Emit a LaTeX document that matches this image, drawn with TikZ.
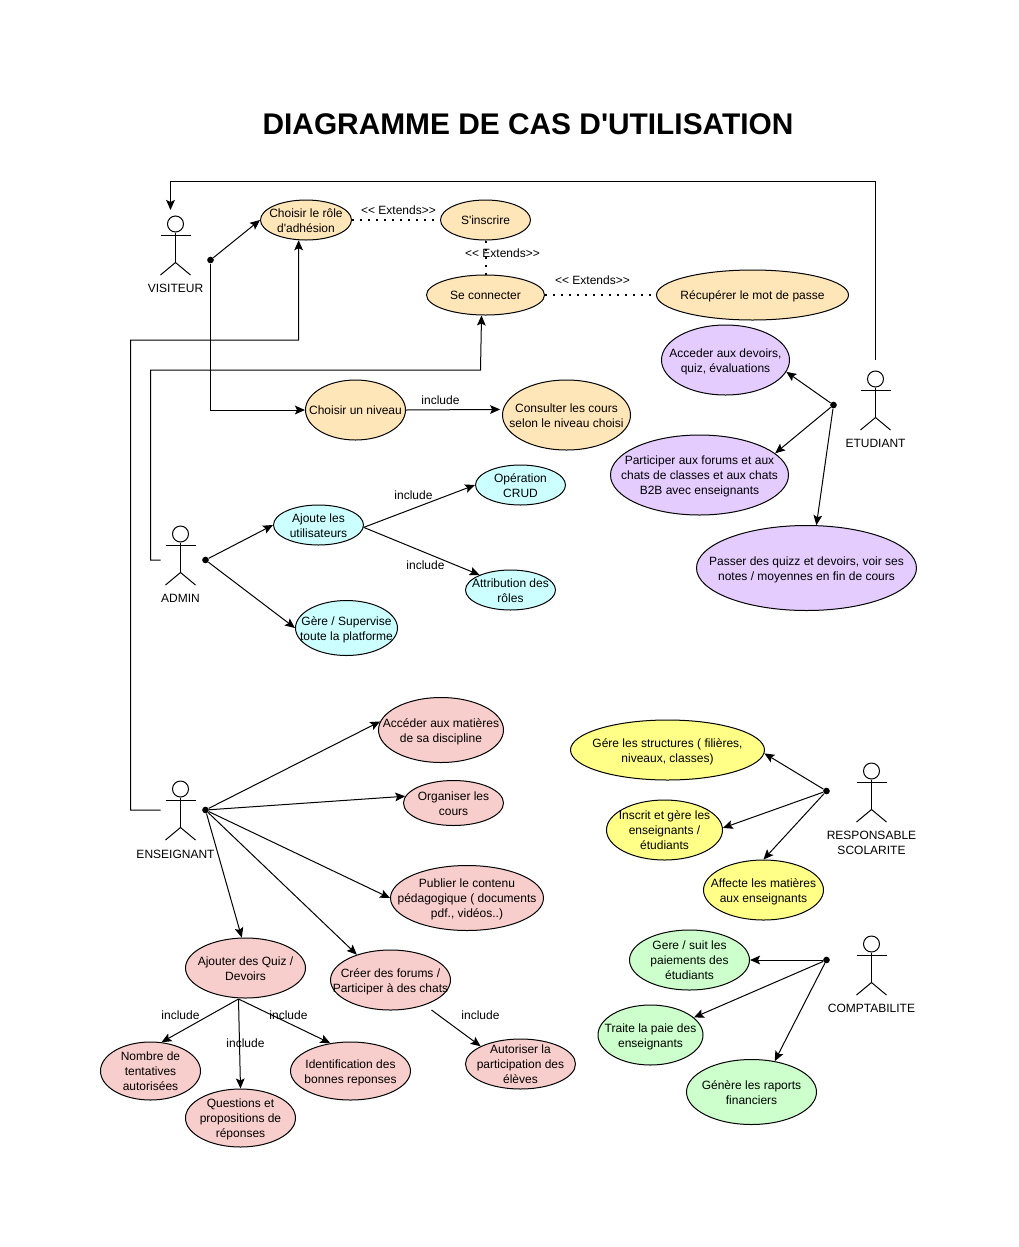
\documentclass[tikz,border=0pt]{standalone}
\usepackage{fontspec}
\setmainfont[Ligatures=TeXOff]{Liberation Sans}
\usetikzlibrary{shapes.geometric,arrows.meta,calc}
\definecolor{corange}{HTML}{FFE6B8}
\definecolor{cpurple}{HTML}{E5CCFF}
\definecolor{ccyan}{HTML}{CCFFFF}
\definecolor{cpink}{HTML}{F8CECC}
\definecolor{cyellow}{HTML}{FFFF88}
\definecolor{cgreen}{HTML}{CCFFCC}
\newcommand{\tx}[1]{\smash{\makebox[0pt]{\raisebox{-3.6pt}{\begin{tabular}[c]{@{}c@{}}#1\end{tabular}}}}}
\newcommand{\uc}[7]{\node[ucase,fill=#1,minimum width=#5*0.75pt,minimum height=#6*0.75pt] (#2) at (#3,#4) {\tx{#7}};}
\newcommand{\actorname}{}
\newcommand{\actor}[5]{%
  \node[draw,circle,inner sep=0pt,minimum size=12pt,line width=0.75pt] (#1) at (#2,#3) {};
  \draw[wire] (#1.south) -- ++(0,-30) coordinate (#1hip);
  \draw[wire] ($(#1.south)+(-15,-3)$) coordinate (#1hand) -- ++(30,0);
  \draw[wire] (#2-15,#3-51) -- (#1hip) -- (#2+15,#3-51);
  \node[lbl,align=center] (#1lab) at (#4,#3-#5) {\actorname};}
\tikzset{
  x=0.75pt,y=0.75pt,
  font=\fontsize{9}{11.25}\selectfont,
  ucase/.style={draw=black,ellipse,inner sep=0pt,line width=0.75pt},
  wire/.style={draw=black,line width=0.75pt},
  arr/.style={wire,-{Stealth[length=7.5pt,width=6.5pt,inset=1.5pt]}},
  dots/.style={draw=black,line width=1.5pt,dash pattern=on 1.5pt off 4.5pt},
  lbl/.style={inner sep=0pt,text=black},
  junction/.style={circle,fill=black,inner sep=0pt,minimum size=5pt},
}
\begin{document}
\begin{tikzpicture}
\useasboundingbox[fill=white] (-0.5,0) rectangle (1018.5,-1247);
\node[lbl,font=\bfseries\fontsize{22.4}{26}\selectfont] (title) at (527.5,-124.5) {DIAGRAMME DE CAS D'UTILISATION};

% use cases
\uc{corange}{role}{305.5}{-220}{91}{40}{Choisir le rôle\\d'adhésion}
\uc{corange}{inscrire}{485}{-220}{90}{40}{S'inscrire}
\uc{corange}{connecter}{485}{-295}{118}{40}{Se connecter}
\uc{corange}{recup}{752}{-295}{192}{50}{Récupérer le mot de passe}
\uc{corange}{niveau}{355}{-410}{100}{60}{Choisir un niveau}
\uc{corange}{consulter}{566}{-415}{128}{70}{Consulter les cours\\selon le niveau choisi}
\uc{cpurple}{acceder}{725}{-360}{128}{70}{Acceder aux devoirs,\\quiz, évaluations}
\uc{cpurple}{forums}{699}{-475}{178}{80}{Participer aux forums et aux\\chats de classes et aux chats\\B2B avec enseignants}
\uc{cpurple}{passer}{806}{-568}{220}{85}{Passer des quizz et devoirs, voir ses\\notes / moyennes en fin de cours}
\uc{ccyan}{crud}{520}{-485}{90}{40}{Opération\\CRUD}
\uc{ccyan}{ajoute}{318}{-525}{90}{40}{Ajoute les\\utilisateurs}
\uc{ccyan}{attrib}{510}{-590}{90}{40}{Attribution des\\rôles}
\uc{ccyan}{gere}{346}{-628}{102}{55}{Gère / Supervise\\toute la platforme}
\uc{cpink}{matieres}{440.5}{-730}{125}{65}{Accéder aux matières\\de sa discipline}
\uc{cpink}{organiser}{453}{-803}{100}{45}{Organiser les\\cours}
\uc{cpink}{publier}{466.5}{-898}{153}{65}{Publier le contenu\\pédagogique ( documents\\pdf., vidéos..)}
\uc{cpink}{quiz}{245}{-968}{120}{60}{Ajouter des Quiz /\\Devoirs}
\uc{cpink}{creer}{390}{-980}{120}{60}{Créer des forums /\\Participer à des chats}
\uc{cpink}{nombre}{150}{-1071}{100}{58}{Nombre de\\tentatives\\autorisées}
\uc{cpink}{questions}{240}{-1118}{110}{58}{Questions et\\propositions de\\réponses}
\uc{cpink}{identif}{350}{-1071}{120}{58}{Identification des\\bonnes reponses}
\uc{cpink}{autoriser}{520}{-1064}{110}{50}{Autoriser la\\participation des\\élèves}
\uc{cyellow}{structures}{667}{-750}{194}{60}{Gére les structures ( filières,\\niveaux, classes)}
\uc{cyellow}{inscrit}{664}{-830}{116}{60}{Inscrit et gère les\\enseignants /\\étudiants}
\uc{cyellow}{affecte}{763}{-890}{120}{60}{Affecte les matières\\aux enseignants}
\uc{cgreen}{paiements}{689}{-960}{120}{60}{Gere / suit les\\paiements des\\étudiants}
\uc{cgreen}{paie}{650}{-1035}{105}{60}{Traite la paie des\\enseignants}
\uc{cgreen}{rapports}{751}{-1092}{130}{65}{Génère les raports\\financiers}

% actors
\renewcommand{\actorname}{VISITEUR}\actor{visiteur}{175}{-224}{175}{64.5}
\renewcommand{\actorname}{ETUDIANT}\actor{etudiant}{875}{-379}{875}{64.5}
\renewcommand{\actorname}{ADMIN}\actor{admin}{180}{-534}{180}{64.5}
\renewcommand{\actorname}{ENSEIGNANT}\actor{enseignant}{180}{-789}{175}{65.5}
\renewcommand{\actorname}{RESPONSABLE\\SCOLARITE}\actor{resp}{871}{-771}{871}{72}
\renewcommand{\actorname}{COMPTABILITE}\actor{compta}{871}{-944}{871}{64.5}

% junction points
\node[junction] (jv) at (210,-260) {};
\node[junction] (je) at (833,-405) {};
\node[junction] (ja) at (205,-560) {};
\node[junction] (jn) at (205,-810) {};
\node[junction] (jr) at (826,-791) {};
\node[junction] (jc) at (826,-960) {};

% routing coordinates
\coordinate (etop) at (875,-360);
\coordinate (e1) at (875,-181);
\coordinate (e2) at (170,-181);
\coordinate (vin) at (170,-210);
\coordinate (v1) at (210,-410);
\coordinate (nout) at (160,-810);
\coordinate (n1) at (130,-810);
\coordinate (n2) at (130,-340);
\coordinate (n3) at (298,-340);
\coordinate (aout) at (160,-560);
\coordinate (a1) at (150,-560);
\coordinate (a2) at (150,-370);
\coordinate (a3) at (480,-370);
\coordinate (quizout) at (238,-999);
\coordinate (creerout) at (431,-1010);

% connectors
\draw[arr] (etop) -- (e1) -- (e2) -- (vin);
\draw[arr] (jv) -- (role.west);
\draw[arr] (jv) -- (v1) -- (niveau.west);
\draw[arr] (nout) -- (n1) -- (n2) -- (n3) -- (role.250);
\draw[arr] (aout) -- (a1) -- (a2) -- (a3) -- (connecter.259);
\draw[dots] (role.east) -- (inscrire.west);
\draw[dots] (inscrire.south) -- (connecter.north);
\draw[dots] (connecter.east) -- (recup.west);
\draw[arr,shorten >=2pt] (niveau.east) -- (consulter.175);
\draw[arr] (je) -- (acceder.-11);
\draw[arr] (je) -- (forums.16);
\draw[arr] (je) -- (passer.77);
\draw[arr] (ja) -- (ajoute.west);
\draw[arr] (ja) -- (gere.west);
\draw[arr] (ajoute.-3) -- (crud.west);
\draw[arr] (ajoute.-3) -- (attrib.154);
\draw[arr] (jn) -- (matieres.172);
\draw[arr] (jn) -- (organiser.172);
\draw[arr] (jn) -- (publier.west);
\draw[arr] (jn) -- (creer.143);
\draw[arr] (jn) -- (quiz.97);
\draw[arr] (quizout) -- (nombre.69);
\draw[arr] (quizout) -- (questions.north);
\draw[arr] (quizout) -- (identif.126);
\draw[arr] (creerout) -- (autoriser.156);
\draw[arr] (jr) -- (structures.-2);
\draw[arr] (jr) -- (inscrit.2);
\draw[arr] (jr) -- (affecte.north);
\draw[arr] (jc) -- (paiements.east);
\draw[arr] (jc) -- (paie.22);
\draw[arr] (jc) -- (rapports.53);

% connector labels
\node[lbl] (l1) at (398,-210) {<< Extends>>};
\node[lbl] (l2) at (502,-253) {<< Extends>>};
\node[lbl] (l3) at (592,-280) {<< Extends>>};
\node[lbl] (l4) at (440,-400) {include};
\node[lbl] (l5) at (413,-495) {include};
\node[lbl] (l6) at (425,-565) {include};
\node[lbl] (l7) at (180,-1015) {include};
\node[lbl] (l8) at (245,-1043) {include};
\node[lbl] (l9) at (288,-1015) {include};
\node[lbl] (l10) at (480,-1015) {include};
\end{tikzpicture}
\end{document}
